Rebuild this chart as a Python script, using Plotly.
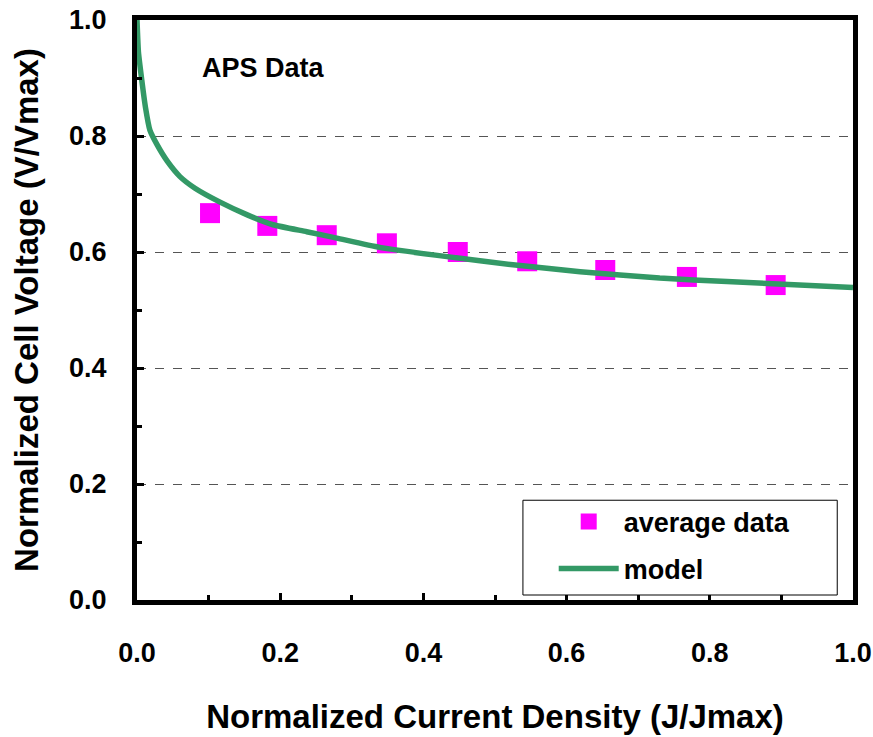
import plotly.graph_objects as go

# average data
data_x = [0.102, 0.182, 0.265, 0.349, 0.448, 0.545, 0.654, 0.768, 0.892]
data_y = [0.667, 0.645, 0.629, 0.615, 0.600, 0.584, 0.569, 0.557, 0.543]

# model curve
model_x = [0.0, 0.002, 0.0066, 0.012, 0.018, 0.028, 0.042, 0.060, 0.081, 0.116, 0.154, 0.190,
           0.237, 0.279, 0.339, 0.433, 0.525, 0.619, 0.730, 0.824, 1.0]
model_y = [1.0, 0.945, 0.897, 0.848, 0.810, 0.785, 0.757, 0.730, 0.710, 0.686, 0.664, 0.647,
           0.635, 0.624, 0.608, 0.592, 0.578, 0.566, 0.555, 0.549, 0.539]

FONT = "Liberation Sans, Arial, sans-serif"

fig = go.Figure()
fig.add_trace(go.Scatter(x=data_x, y=data_y, mode="markers", name="average data",
                         legendgroup="a",
                         marker=dict(symbol="square", size=20, color="#ff00ff")))
fig.add_trace(go.Scatter(x=model_x, y=model_y, mode="lines", name="model",
                         legendgroup="b",
                         line=dict(color="#339966", width=5.5, shape="spline", smoothing=0.5)))

axis_common = dict(
    showline=True, linecolor="black", linewidth=5, mirror=True, automargin=False,
    ticks="inside", ticklen=7, tickwidth=3, tickcolor="black",
    tickfont=dict(family=FONT, size=27, color="black", weight="bold"),
    zeroline=False, tickformat=".1f", dtick=0.2, range=[0, 1],
    minor=dict(ticks="inside", ticklen=5, tickwidth=3, tickcolor="black", dtick=0.1, showgrid=False),
)

fig.update_xaxes(**axis_common, showgrid=False, ticklabelstandoff=25,
                 title=dict(text="Normalized Current Density (J/Jmax)",
                            font=dict(family=FONT, size=33, color="black", weight="bold"),
                            standoff=39))
fig.update_yaxes(**axis_common, showgrid=True, gridcolor="#555555", griddash="dash", gridwidth=1,
                 ticklabelstandoff=20,
                 title=dict(text="Normalized Cell Voltage (V/Vmax)",
                            font=dict(family=FONT, size=33, color="black", weight="bold"),
                            standoff=22))

fig.add_annotation(x=0.177, y=0.917, xref="x", yref="y", text="APS Data", showarrow=False,
                   font=dict(family=FONT, size=27, color="black", weight="bold"))

# legend frame
fig.add_shape(type="rect", xref="paper", yref="paper", x0=0.539, x1=0.978, y0=0.0086, y1=0.172,
              fillcolor="white", line=dict(color="black", width=1), layer="above")

fig.update_layout(
    width=873, height=737,
    margin=dict(l=137, r=20, t=20, b=137),
    plot_bgcolor="white", paper_bgcolor="white",
    legend=dict(x=0.582, y=0.177, xanchor="left", yanchor="top",
                bgcolor="rgba(0,0,0,0)", borderwidth=0,
                font=dict(family=FONT, size=27, color="black", weight="bold"),
                itemwidth=60, tracegroupgap=9),
    showlegend=True,
)

fig.write_html("out.html")
